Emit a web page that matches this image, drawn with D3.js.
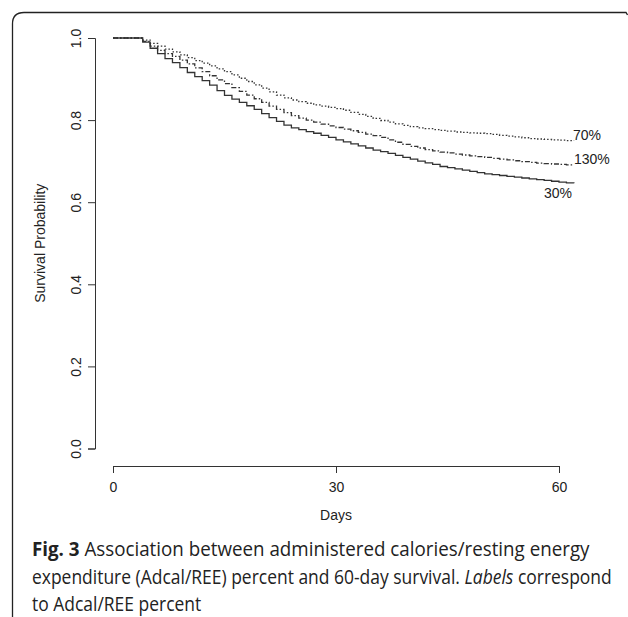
<!DOCTYPE html>
<html>
<head>
<meta charset="utf-8">
<title>Fig. 3</title>
<script src="https://d3js.org/d3.v7.min.js"></script>
<style>
body { margin: 0; background: #fff; }
svg text { fill: #222; }
</style>
</head>
<body>
<script>
// days 0..62, Kaplan-Meier estimates
var days = d3.range(0, 63);

var surv30 = [1.000,1.000,1.000,1.000,0.990,0.975,0.962,0.950,0.940,0.928,
  0.916,0.906,0.896,0.885,0.872,0.860,0.851,0.843,0.835,0.826,
  0.816,0.806,0.797,0.788,0.781,0.777,0.772,0.768,0.763,0.758,
  0.752,0.747,0.742,0.737,0.732,0.727,0.723,0.719,0.714,0.709,
  0.705,0.700,0.696,0.692,0.687,0.684,0.681,0.678,0.675,0.672,
  0.669,0.667,0.665,0.663,0.661,0.659,0.657,0.655,0.653,0.651,
  0.649,0.647,0.646];

var surv130 = [1.000,1.000,1.000,1.000,0.992,0.980,0.970,0.962,0.955,0.946,
  0.937,0.927,0.918,0.908,0.898,0.889,0.879,0.870,0.861,0.852,
  0.843,0.834,0.826,0.818,0.811,0.805,0.800,0.795,0.790,0.786,
  0.782,0.778,0.774,0.770,0.766,0.762,0.758,0.752,0.746,0.741,
  0.736,0.732,0.728,0.725,0.722,0.720,0.717,0.715,0.713,0.711,
  0.709,0.707,0.705,0.703,0.701,0.699,0.697,0.695,0.694,0.693,
  0.692,0.691,0.690];

var surv70 = [1.000,1.000,1.000,1.000,0.995,0.987,0.980,0.973,0.966,0.959,
  0.952,0.945,0.939,0.932,0.925,0.918,0.910,0.902,0.894,0.886,
  0.878,0.869,0.861,0.854,0.849,0.845,0.841,0.837,0.834,0.831,
  0.828,0.824,0.819,0.814,0.809,0.804,0.799,0.795,0.791,0.787,
  0.784,0.781,0.779,0.777,0.775,0.773,0.771,0.770,0.769,0.768,
  0.767,0.765,0.763,0.761,0.759,0.757,0.755,0.754,0.753,0.752,
  0.751,0.750,0.749];

var xTicks = [0, 30, 60];
var yTicks = [0, 0.2, 0.4, 0.6, 0.8, 1.0];

var width = 628, height = 617;

var svg = d3.select("body").append("svg")
  .attr("width", width)
  .attr("height", height);

// panel frame with rounded top-left corner
svg.append("path")
  .attr("d", "M12.5,617 L12.5,24 Q12.5,12.5 24,12.5 L626,12.5 L627.5,15")
  .attr("fill", "none")
  .attr("stroke", "#222")
  .attr("stroke-width", 1.3);

var x = d3.scaleLinear().domain([0, 60]).range([113, 559]);
var y = d3.scaleLinear().domain([0, 1]).range([448.5, 38]);

var font = "'Liberation Sans', Arial, sans-serif";

// y axis
var yAxis = svg.append("g")
  .attr("transform", "translate(95,0)")
  .call(d3.axisLeft(y).tickValues(yTicks).tickSize(7).tickFormat(d3.format(".1f")));
yAxis.select(".domain").attr("stroke", "#333");
yAxis.selectAll(".tick line").attr("stroke", "#333");
yAxis.selectAll(".tick text")
  .attr("font-family", font)
  .attr("font-size", 14)
  .attr("fill", "#222")
  .attr("x", null).attr("dy", null)
  .attr("text-anchor", "middle")
  .attr("transform", "translate(-14,0) rotate(-90)");

// x axis
var xAxis = svg.append("g")
  .attr("transform", "translate(0,466)")
  .call(d3.axisBottom(x).tickValues(xTicks).tickSize(7).tickSizeOuter(7));
xAxis.select(".domain").attr("stroke", "#333");
xAxis.selectAll(".tick line").attr("stroke", "#333");
xAxis.selectAll(".tick text")
  .attr("font-family", font)
  .attr("font-size", 14)
  .attr("fill", "#222")
  .attr("y", 26).attr("dy", null);

svg.append("text")
  .attr("x", x(30)).attr("y", 520)
  .attr("text-anchor", "middle")
  .attr("font-family", font).attr("font-size", 14)
  .text("Days");

svg.append("text")
  .attr("transform", "translate(45," + y(0.5) + ") rotate(-90)")
  .attr("text-anchor", "middle")
  .attr("font-family", font).attr("font-size", 14)
  .text("Survival Probability");

// survival curves
var series = [
  { key: "30%", values: surv30, dash: null, lx: 572, ly: 198, anchor: "end" },
  { key: "130%", values: surv130, dash: "5,2,1.5,2", lx: 574, ly: 164, anchor: "start" },
  { key: "70%", values: surv70, dash: "1.5,2", lx: 573, ly: 140, anchor: "start" }
];

var line = d3.line()
  .x(function(d, i) { return x(days[i]); })
  .y(function(d) { return y(d); })
  .curve(d3.curveStepAfter);

svg.selectAll("path.km")
  .data(series)
  .enter()
  .append("path")
    .attr("class", "km")
    .attr("fill", "none")
    .attr("stroke", "#333")
    .attr("stroke-width", 1.3)
    .attr("stroke-dasharray", function(d) { return d.dash; })
    .attr("d", function(d) { return line(d.values); });

svg.selectAll("text.lab")
  .data(series)
  .enter()
  .append("text")
    .attr("class", "lab")
    .attr("x", function(d) { return d.lx; })
    .attr("y", function(d) { return d.ly; })
    .attr("text-anchor", function(d) { return d.anchor; })
    .attr("font-family", font)
    .attr("font-size", 14)
    .text(function(d) { return d.key; });

// caption: lines squeezed to the width they have in the figure
var capFont = "'Open Sans', 'Noto Sans', sans-serif";
var cap = svg.append("g")
  .attr("font-family", capFont)
  .attr("font-size", 19.5)
  .attr("fill", "#222");

function capLine(yPos) {
  var t = cap.append("text").attr("x", 0).attr("y", 0);
  t.scaleTo = function(s) {
    t.attr("transform", "translate(32," + yPos + ") scale(" + s + ",1)");
  };
  t.width = function() { return t.node().getComputedTextLength(); };
  return t;
}

var l1 = capLine(556);
l1.append("tspan").attr("font-weight", "bold").text("Fig. 3");
l1.append("tspan").text(" Association between administered calories/resting energy");
l1.scaleTo(558 / l1.width());

var l2 = capLine(584);
l2.append("tspan").text("expenditure (Adcal/REE) percent and 60-day survival. ");
l2.append("tspan").attr("font-style", "italic").text("Labels");
l2.append("tspan").text(" correspond");
var s2 = 580 / l2.width();
l2.scaleTo(s2);

var l3 = capLine(611);
l3.text("to Adcal/REE percent");
l3.scaleTo(s2);
</script>
</body>
</html>
